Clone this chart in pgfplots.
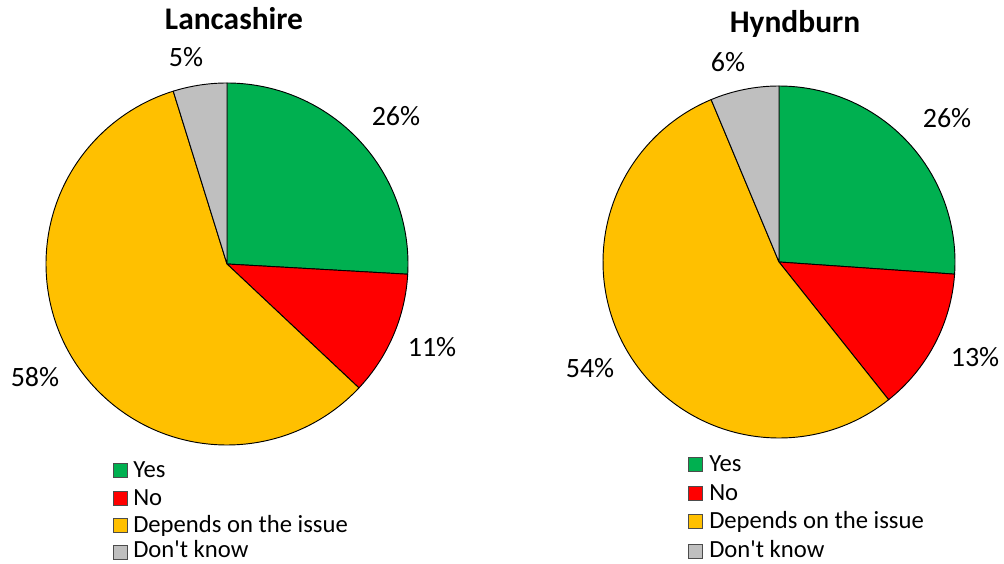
\documentclass[border=0pt]{standalone}
\usepackage{fontspec}
\setmainfont{Carlito}
\usepackage{pgfplots}
\usepackage{pgfplotstable}
\pgfplotsset{compat=1.18}

\definecolor{cyes}{HTML}{00B050}
\definecolor{cno}{HTML}{FF0000}
\definecolor{cdep}{HTML}{FFC000}
\definecolor{cdk}{HTML}{BFBFBF}

% shares in percent: Yes, No, Depends on the issue, Don't know
\pgfplotstableread{
answer share
Yes 25.9
No 11.1
Depends 58.2
DontKnow 4.8
}\lancs
\pgfplotstableread{
answer share
Yes 26.1
No 13.2
Depends 54.4
DontKnow 6.3
}\hynd

% cumulative angles (clockwise from 12 o'clock)
\pgfplotstablegetelem{0}{share}\of\lancs \pgfmathsetmacro\LA{90-3.6*\pgfplotsretval}
\pgfplotstablegetelem{1}{share}\of\lancs \pgfmathsetmacro\LB{\LA-3.6*\pgfplotsretval}
\pgfplotstablegetelem{2}{share}\of\lancs \pgfmathsetmacro\LC{\LB-3.6*\pgfplotsretval}
\pgfplotstablegetelem{3}{share}\of\lancs \pgfmathsetmacro\LD{\LC-3.6*\pgfplotsretval}
\pgfplotstablegetelem{0}{share}\of\hynd \pgfmathsetmacro\HA{90-3.6*\pgfplotsretval}
\pgfplotstablegetelem{1}{share}\of\hynd \pgfmathsetmacro\HB{\HA-3.6*\pgfplotsretval}
\pgfplotstablegetelem{2}{share}\of\hynd \pgfmathsetmacro\HC{\HB-3.6*\pgfplotsretval}
\pgfplotstablegetelem{3}{share}\of\hynd \pgfmathsetmacro\HD{\HC-3.6*\pgfplotsretval}

\newcommand\slice[6]{%
  \filldraw[fill=#6, draw=black, line width=0.7pt, line join=round]
    (axis cs:#1,#2) -- ++(#4:#3) arc[start angle=#4, end angle=#5, radius=#3] -- cycle;}
\newcommand\legsq[3]{% x y color
  \filldraw[fill=#3, draw=black!70, line width=0.6pt]
    (axis cs:#1,#2) rectangle (axis cs:#1+14,#2+14);}

\begin{document}
\begin{tikzpicture}
\begin{axis}[
  x=0.75pt, y=0.75pt,
  xmin=0, xmax=1004, ymin=0, ymax=564,
  axis lines=none, clip=false,
  ticks=none,
]
\path (axis cs:0,0) (axis cs:1004,564);

% Lancashire pie, centre (227,300), radius 181 px
\slice{227}{300}{135.75pt}{90}{\LA}{cyes}
\slice{227}{300}{135.75pt}{\LA}{\LB}{cno}
\slice{227}{300}{135.75pt}{\LB}{\LC}{cdep}
\slice{227}{300}{135.75pt}{\LC}{\LD}{cdk}

% Hyndburn pie, centre (779,302), radius 176 px
\slice{779}{302}{132pt}{90}{\HA}{cyes}
\slice{779}{302}{132pt}{\HA}{\HB}{cno}
\slice{779}{302}{132pt}{\HB}{\HC}{cdep}
\slice{779}{302}{132pt}{\HC}{\HD}{cdk}

% titles
\node[anchor=base, font=\fontsize{23.6pt}{26pt}\selectfont\bfseries] at (axis cs:234,534) {Lancashire};
\node[anchor=base, font=\fontsize{23.6pt}{26pt}\selectfont\bfseries] at (axis cs:795,531) {Hyndburn};

% data labels
\begin{scope}[every node/.style={anchor=base, font=\fontsize{21pt}{24pt}\selectfont}]
\node at (axis cs:396,438) {26\%};
\node at (axis cs:432,207) {11\%};
\node at (axis cs:35,177) {58\%};
\node at (axis cs:186,497) {5\%};
\node at (axis cs:947,436) {26\%};
\node at (axis cs:975,197) {13\%};
\node at (axis cs:590,186) {54\%};
\node at (axis cs:728,492) {6\%};
\end{scope}

% legends
\legsq{113}{87}{cyes}
\legsq{113}{59}{cno}
\legsq{113}{32}{cdep}
\legsq{113}{5}{cdk}
\legsq{688}{93}{cyes}
\legsq{688}{64}{cno}
\legsq{688}{36}{cdep}
\legsq{688}{6}{cdk}
\begin{scope}[every node/.style={anchor=base west, inner sep=0pt, font=\fontsize{18.5pt}{21pt}\selectfont}]
\node at (axis cs:133,86) {Yes};
\node at (axis cs:133,58) {No};
\node at (axis cs:133,31) {Depends on the issue};
\node at (axis cs:133,6) {Don\textquotesingle t know};
\node at (axis cs:709,92) {Yes};
\node at (axis cs:709,63) {No};
\node at (axis cs:709,35) {Depends on the issue};
\node at (axis cs:709,6) {Don\textquotesingle t know};
\end{scope}
\end{axis}
\end{tikzpicture}
\end{document}
